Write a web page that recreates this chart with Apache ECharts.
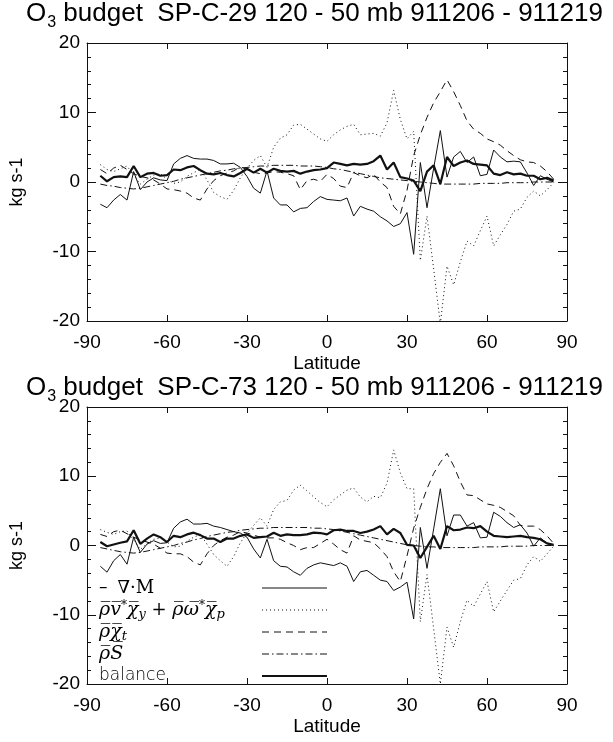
<!DOCTYPE html>
<html>
<head>
<meta charset="utf-8">
<script src="https://cdn.jsdelivr.net/npm/echarts@6/dist/echarts.min.js"></script>
<style>
  html, body { margin: 0; padding: 0; background: #fff; }
  #chart { width: 613px; height: 742px; }
</style>
</head>
<body>
<div id="chart"></div>
<script>
// Latitude grid of the zonal means (degrees)
const latitudes = [
  -85, -82.5, -80, -77.5, -75, -72.5, -70, -67.5, -65, -62.5,
  -60, -57.5, -55, -52.5, -50, -47.5, -45, -42.5, -40, -37.5,
  -35, -32.5, -30, -27.5, -25, -22.5, -20, -17.5, -15, -12.5,
  -10, -7.5, -5, -2.5, 0, 2.5, 5, 7.5, 10, 12.5,
  15, 17.5, 20, 22.5, 25, 27.5, 30, 32.5, 35, 37.5,
  40, 42.5, 45, 47.5, 50, 52.5, 55, 57.5, 60, 62.5,
  65, 67.5, 70, 72.5, 75, 77.5, 80, 82.5, 85
];

// Axis ticks
const latTicks = [-90, -60, -30, 0, 30, 60, 90];
const fluxTicks = [-20, -10, 0, 10, 20];

// Panel titles
const titles = [
  'O|3| budget  SP-C-29 120 - 50 mb 911206 - 911219',
  'O|3| budget  SP-C-73 120 - 50 mb 911206 - 911219'
];

// ---- SP-C-29 budget terms (kg s-1) ----
const divM29 = [
  -3.2, -3.7, -2.6, -1.8, -2.6, 1.5, -1.1, 0.0, 0.6, 0.3,
  0.2, 2.6, 3.4, 3.8, 3.4, 3.3, 3.3, 3.1, 2.6, 2.6,
  2.7, 2.1, 0.8, -0.9, -1.6, 1.6, -2.3, -3.3, -3.3, -4.3,
  -3.8, -3.7, -2.8, -2.1, -2.5, -2.6, -2.7, -2.3, -4.9, -3.5,
  -3.9, -4.2, -5.0, -5.6, -6.4, -6.0, -4.4, -10.4, 2.8, -3.7,
  2.0, 7.4, 0.7, 3.6, 4.4, 2.8, 3.6, 0.9, 1.1, 4.6,
  3.6, 2.9, 3.0, 2.9, 1.3, -0.5, 0.9, 0.4, 0.0
];
const adv29 = [
  2.5, 1.8, 1.5, 1.9, 2.3, 1.0, -0.3, 0.4, 1.0, 1.2,
  0.4, -0.2, 0.0, 0.8, 1.35, 1.8, 0.3, -1.5, -2.1, -2.5,
  -1.2, 0.6, 2.0, 3.1, 3.8, 2.1, 5.0, 6.3, 6.8, 8.2,
  8.3, 7.6, 6.9, 6.2, 5.85, 6.8, 7.5, 8.0, 8.3, 6.8,
  6.9, 7.0, 6.6, 8.5, 13.2, 9.0, 6.2, 7.3, -11.3, -4.9,
  -12.5, -20.4, -12.1, -14.8, -11.5, -8.5, -9.2, -7.0, -4.9, -9.2,
  -7.6, -6.1, -4.2, -3.9, -2.2, -1.3, -2.0, -1.1, -0.1
];
const tend29 = [
  1.8, 1.2, 2.0, 2.4, 1.8, 1.2, 0.8, 0.6, 0.3, -0.3,
  -1.0, -1.1, -1.3, -1.6, -2.3, -2.6, -1.0, 0.2, 0.9, 1.3,
  1.6, 2.2, 1.8, 1.4, 1.2, 1.3, 1.5, 1.4, 1.2, 0.9,
  -1.1, 0.2, 0.4, 0.1, 1.1, 0.5, -0.6, -0.8, 1.35, 0.9,
  0.6, 1.1, 0.0, -0.8, -3.5, -4.6, -1.2, 3.8, 6.8, 9.3,
  11.4, 13.0, 14.7, 13.0, 11.0, 8.8, 7.6, 7.0, 6.2, 5.8,
  5.3, 4.5, 3.8, 3.2, 2.9, 2.8, 2.3, 1.5, 0.4
];
const src29 = [
  -0.3, -0.5, -0.6, -0.8, -0.9, -1.0, -0.9, -0.7, -0.5, -0.3,
  -0.1, 0.1, 0.4, 0.6, 0.8, 1.0, 1.2, 1.4, 1.6, 1.7,
  1.9, 2.0, 2.1, 2.2, 2.3, 2.3, 2.4, 2.4, 2.4, 2.4,
  2.3, 2.3, 2.3, 2.2, 2.1, 1.9, 1.8, 1.6, 1.4, 1.2,
  1.0, 0.8, 0.6, 0.5, 0.4, 0.3, 0.2, 0.1, 0.0, -0.1,
  -0.2, -0.3, -0.3, -0.3, -0.3, -0.3, -0.3, -0.2, -0.2, -0.2,
  -0.2, -0.1, -0.1, -0.1, -0.1, 0.0, 0.0, 0.0, 0.0
];
const bal29 = [
  0.9, 0.1, 0.7, 0.8, 0.7, 2.3, 0.7, 1.2, 1.3, 0.9,
  1.0, 1.8, 1.7, 2.1, 2.3, 1.7, 1.2, 1.1, 1.3, 1.0,
  0.8, 1.3, 1.9, 1.35, 1.9, 1.35, 1.9, 1.6, 1.5, 1.6,
  1.2, 1.5, 1.7, 1.8, 2.0, 2.8, 2.6, 2.4, 2.6, 2.5,
  2.6, 3.0, 3.8, 1.8, 2.8, 0.7, 0.5, 0.2, -1.3, 1.5,
  2.4, -0.3, 3.6, 2.3, 2.8, 3.1, 2.6, 2.5, 2.4, 1.2,
  1.0, 1.4, 1.1, 1.2, 0.9, 0.9, 0.4, 0.6, 0.2
];

// ---- SP-C-73 budget terms (kg s-1) ----
const divM73 = [
  -3.0, -3.85, -2.2, -1.3, -2.7, 1.2, -1.0, 0.2, 0.7, 0.3,
  0.4, 2.5, 3.4, 3.8, 3.1, 3.1, 3.2, 2.8, 2.6, 2.3,
  2.0, 1.8, 1.2, -0.5, -1.8, 0.9, -2.2, -3.0, -3.1, -3.8,
  -4.3, -3.3, -2.8, -2.5, -2.7, -2.9, -2.5, -3.0, -5.2, -3.8,
  -3.6, -4.3, -5.0, -5.2, -6.5, -6.0, -5.3, -10.6, 2.6, -3.3,
  2.4, 8.2, 1.4, 4.4, 4.4, 2.8, 3.3, 1.1, 1.2, 4.8,
  4.2, 3.3, 2.6, 3.0, 1.8, -0.1, 1.1, 0.3, 0.0
];
const adv73 = [
  2.3, 1.9, 1.6, 2.0, 2.1, 0.8, -0.6, 0.3, 0.9, 1.1,
  0.5, -0.2, -0.1, 0.6, 1.2, 1.6, 0.2, -1.3, -2.2, -3.0,
  -1.6, 0.4, 1.8, 2.9, 4.0, 2.8, 5.2, 6.3, 6.5, 8.0,
  8.7, 7.9, 7.0, 6.2, 5.6, 6.6, 7.3, 8.0, 8.3, 7.0,
  6.3, 7.1, 6.9, 9.0, 13.8, 10.5, 8.2, 8.2, -11.0, -4.2,
  -12.0, -20.0, -11.8, -14.7, -11.0, -7.9, -8.8, -7.0, -5.2, -9.6,
  -8.0, -6.5, -5.0, -4.8, -2.8, -1.6, -2.3, -1.2, -0.1
];
const tend73 = [
  1.6, 1.3, 2.0, 2.2, 1.7, 1.2, 0.8, 0.5, 0.2, -0.4,
  -1.1, -1.2, -1.2, -1.6, -2.4, -2.8, -1.2, 0.0, 0.7, 1.2,
  1.5, 2.0, 1.8, 1.5, 1.2, 1.1, 1.1, 0.9, 0.4, 0.0,
  -0.6, -0.3, -0.3, 0.3, 0.9, 0.2, -0.6, -1.1, 1.4, 0.8,
  0.6, 0.4, -0.5, -1.6, -3.8, -5.2, -1.5, 2.5, 5.5, 8.2,
  10.4, 12.0, 13.3, 11.5, 9.2, 7.3, 7.2, 6.6, 6.0, 5.8,
  5.5, 4.9, 4.3, 2.9, 2.8, 2.8, 2.3, 1.4, 0.3
];
const src73 = [
  -0.3, -0.5, -0.7, -0.9, -1.0, -1.1, -1.0, -0.8, -0.6, -0.4,
  -0.2, 0.0, 0.3, 0.5, 0.8, 1.0, 1.3, 1.5, 1.7, 1.9,
  2.0, 2.2, 2.3, 2.4, 2.5, 2.5, 2.6, 2.6, 2.6, 2.6,
  2.6, 2.6, 2.5, 2.5, 2.4, 2.3, 2.1, 1.9, 1.7, 1.5,
  1.3, 1.1, 0.9, 0.7, 0.5, 0.3, 0.1, 0.0, -0.1, -0.2,
  -0.2, -0.3, -0.3, -0.3, -0.3, -0.3, -0.3, -0.2, -0.2, -0.2,
  -0.2, -0.1, -0.1, -0.1, -0.1, 0.0, 0.0, 0.0, 0.0
];
const bal73 = [
  0.5, -0.1, 0.15, 0.4, 0.6, 2.2, 0.25, 1.0, 1.6, 1.2,
  0.5, 1.4, 1.2, 1.6, 1.85, 1.5, 1.0, 1.0, 0.5, 1.0,
  1.0, 1.4, 1.6, 1.1, 1.2, 1.3, 1.85, 1.4, 1.6, 1.5,
  1.5, 1.6, 1.85, 1.8, 1.6, 2.2, 2.3, 2.1, 2.1, 1.8,
  2.0, 2.3, 2.8, 1.6, 2.4, 1.8, 0.1, 0.0, -1.8, -0.2,
  1.4, -0.5, 2.8, 2.2, 2.3, 2.6, 2.5, 2.8, 2.0, 1.4,
  1.3, 1.2, 1.3, 1.4, 1.2, 1.1, 0.9, 0.3, 0.1
];

const panels = [
  { divM: divM29, adv: adv29, tend: tend29, src: src29, bal: bal29 },
  { divM: divM73, adv: adv73, tend: tend73, src: src73, bal: bal73 }
];

const INK = '#111';
const FONT = 'Liberation Sans, Arial, Helvetica, sans-serif';

// Line look of each budget term
const termStyles = {
  divM: { color: INK, width: 1, type: 'solid' },
  adv:  { color: INK, width: 1, type: [1, 3] },
  tend: { color: INK, width: 1, type: [7, 5] },
  src:  { color: INK, width: 1, type: [7, 3, 1.5, 3] },
  bal:  { color: INK, width: 2.2, type: 'solid' }
};
const termOrder = ['divM', 'adv', 'tend', 'src', 'bal'];

const grids = [
  { left: 77, right: 46, top: 43, height: 278 },
  { left: 77, right: 46, top: 407, height: 277 }
];

const xAxes = [], yAxes = [], series = [];
grids.forEach((g, gi) => {
  const common = {
    type: 'value', gridIndex: gi,
    min: latTicks[0], max: latTicks[latTicks.length - 1],
    interval: latTicks[1] - latTicks[0],
    splitLine: { show: false },
    axisLine: { show: true, onZero: false, lineStyle: { color: INK, width: 1 } },
    axisTick: { show: true, inside: true, length: 6, lineStyle: { color: INK } }
  };
  xAxes.push(Object.assign({}, common, {
    position: 'bottom',
    axisLabel: { fontSize: 19, color: '#000', fontFamily: FONT, margin: 12 },
    name: 'Latitude', nameLocation: 'middle', nameGap: 33,
    nameTextStyle: { fontSize: 19, color: '#000', fontFamily: FONT }
  }));
  xAxes.push(Object.assign({}, common, {
    position: 'top', axisLabel: { show: false }
  }));
  const ycommon = {
    type: 'value', gridIndex: gi,
    min: fluxTicks[0], max: fluxTicks[fluxTicks.length - 1],
    interval: fluxTicks[1] - fluxTicks[0],
    splitLine: { show: false },
    axisLine: { show: true, onZero: false, lineStyle: { color: INK, width: 1 } },
    axisTick: { show: true, inside: true, length: 9, lineStyle: { color: INK } },
    minorTick: { show: true, splitNumber: 5, length: 4, lineStyle: { color: INK } }
  };
  yAxes.push(Object.assign({}, ycommon, {
    position: 'left',
    axisLabel: { fontSize: 19, color: '#000', fontFamily: FONT, margin: 7 },
    name: 'kg s-1', nameLocation: 'middle', nameGap: 61,
    nameTextStyle: { fontSize: 18, color: '#000', fontFamily: FONT }
  }));
  yAxes.push(Object.assign({}, ycommon, {
    position: 'right', axisLabel: { show: false }
  }));

  termOrder.forEach(key => {
    const vals = panels[gi][key];
    series.push({
      type: 'line', name: key + gi,
      xAxisIndex: gi * 2, yAxisIndex: gi * 2,
      data: latitudes.map((lat, i) => [lat, vals[i]]),
      symbol: 'none', showSymbol: false, clip: true, silent: true,
      lineStyle: termStyles[key]
    });
  });
});

// Panel titles with a subscripted "3"
const titleRich = {
  a: { fontSize: 26, fontFamily: FONT, fontWeight: 'normal', color: '#000', lineHeight: 28, verticalAlign: 'top' },
  s: { fontSize: 16, fontFamily: FONT, fontWeight: 'normal', color: '#000', lineHeight: 16, verticalAlign: 'top', padding: [14, 0, 0, 1] }
};
const titleText = t => {
  const [o, sub, rest] = t.split('|');
  return '{a|' + o + '}{s|' + sub + '}{a|' + rest + '}';
};
const titleTops = [1, 375];

// Legend drawn in the lower panel
const OL = '\u0305';
const mathRich = {
  m: { fontSize: 19, fontFamily: 'DejaVu Serif', fontStyle: 'italic', color: '#222' },
  r: { fontSize: 18, fontFamily: 'DejaVu Serif', color: '#222' },
  sub: { fontSize: 13, fontFamily: 'DejaVu Serif', fontStyle: 'italic', color: '#222', padding: [10, 0, 0, 0] },
  sup: { fontSize: 12, fontFamily: 'DejaVu Serif', color: '#222', padding: [0, 0, 8, 0] },
  g: { fontSize: 17, fontFamily: 'DejaVu Sans', color: '#999' },
  lt: { fontSize: 17, fontFamily: 'DejaVu Sans', color: '#8a8a8a', fontWeight: 200 }
};
const legendRows = [
  { text: '{g|\u2013}   {r|\u2207\u00b7M}', key: 'divM' },
  { text: '{m|\u03c1' + OL + 'v' + OL + '}{sup|*}{m|\u03c7' + OL + '}{sub|y}{r| + }{m|\u03c1' + OL + '\u03c9' + OL + '}{sup|*}{m|\u03c7' + OL + '}{sub|p}', key: 'adv' },
  { text: '{m|\u03c1' + OL + '\u03c7' + OL + '}{sub|t}', key: 'tend' },
  { text: '{m|\u03c1' + OL + 'S' + OL + '}', key: 'src' },
  { text: '{lt|balance}', key: 'bal' }
];
const legendTop = 588, legendStep = 22;
const graphics = [];
legendRows.forEach((row, i) => {
  const y = legendTop + i * legendStep;
  graphics.push({
    type: 'text', silent: true,
    style: { text: row.text, x: 99, y: y, verticalAlign: 'middle', rich: mathRich }
  });
  const ls = termStyles[row.key];
  graphics.push({
    type: 'line', silent: true,
    shape: { x1: 262, y1: y, x2: 327, y2: y },
    style: { stroke: INK, lineWidth: ls.width, lineDash: Array.isArray(ls.type) ? ls.type : null }
  });
});

const chart = echarts.init(document.getElementById('chart'), null, { renderer: 'canvas' });
chart.setOption({
  animation: false,
  backgroundColor: '#fff',
  title: titles.map((t, i) => ({
    text: titleText(t), left: 26, top: titleTops[i], padding: 0,
    textStyle: { fontWeight: 'normal', rich: titleRich }
  })),
  grid: grids,
  xAxis: xAxes,
  yAxis: yAxes,
  series: series,
  graphic: graphics
});
</script>
</body>
</html>
